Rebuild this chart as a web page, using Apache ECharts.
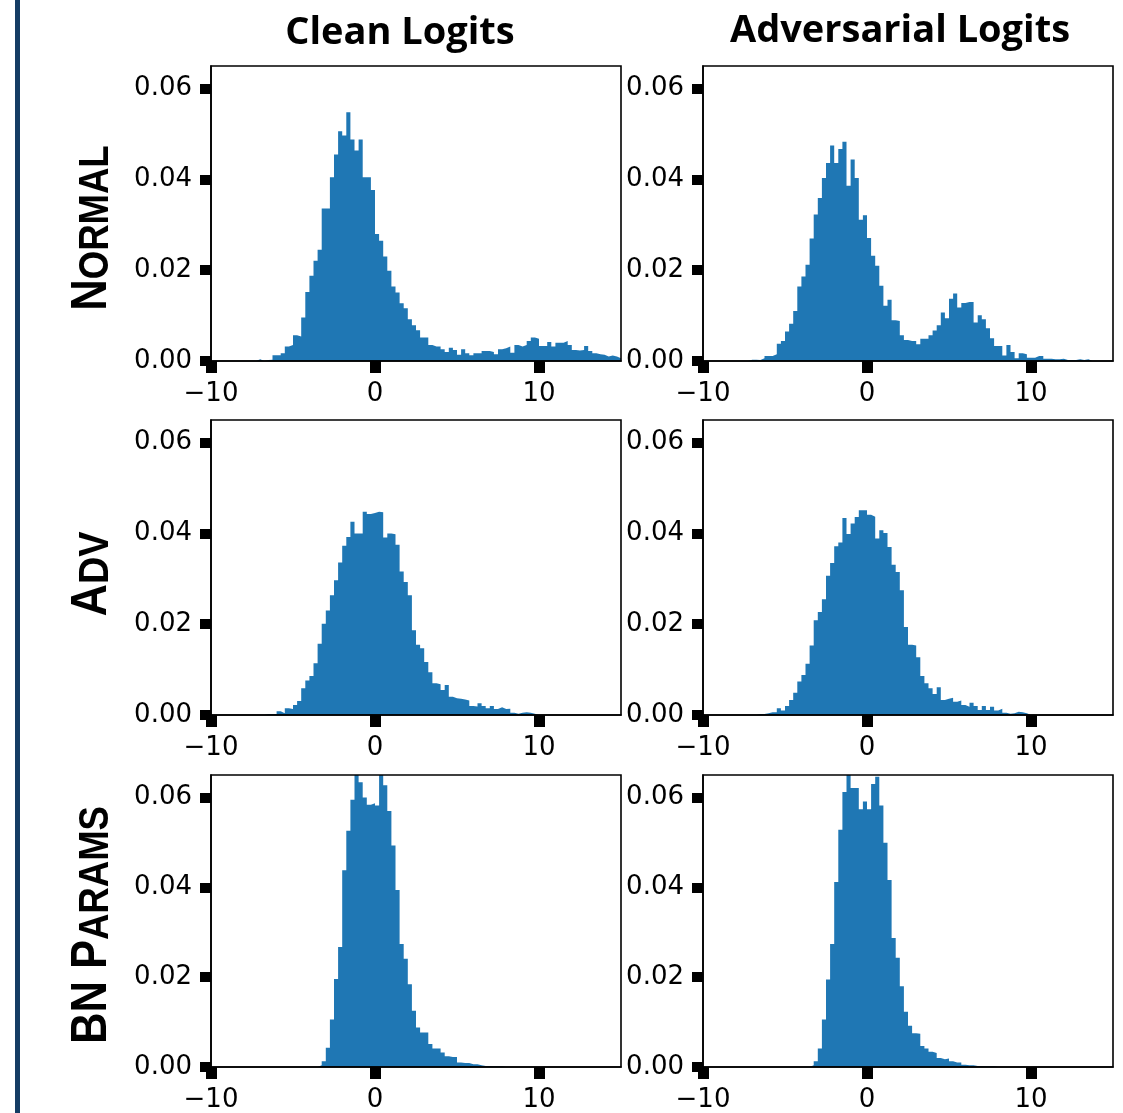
<!DOCTYPE html>
<html>
<head>
<meta charset="utf-8">
<script src="https://cdn.jsdelivr.net/npm/echarts@6/dist/echarts.min.js"></script>
<style>
  html, body { margin: 0; padding: 0; background: #fff; }
  #chart { width: 1123px; height: 1113px; }
</style>
</head>
<body>
<div id="chart"></div>
<script>
  // histogram bins: 100 bins of width 0.25 starting at -10
  const binStart = -10;
  const binWidth = 0.25;
  const xTicks = [-10, 0, 10];
  const yTicks = [0, 0.02, 0.04, 0.06];
  const colTitles = ["Clean Logits", "Adversarial Logits"];

  // density per bin
  const cleanNormal = [
    0, 0, 0, 0, 0, 0, 0, 0, 0, 0,
    0, 0.0004, 0, 0.0002, 0.0003, 0.00125, 0.00125, 0.0017, 0.0032, 0.0035,
    0.0057, 0.0054, 0.0096, 0.0152, 0.0188, 0.0221, 0.0245, 0.0336, 0.0336, 0.0405,
    0.0455, 0.0506, 0.0497, 0.0548, 0.0488, 0.0464, 0.0488, 0.0405, 0.0405, 0.0377,
    0.028, 0.0265, 0.023, 0.0199, 0.0164, 0.0151, 0.0127, 0.0116, 0.0092, 0.0079,
    0.0068, 0.0052, 0.0052, 0.0035, 0.0032, 0.0032, 0.0026, 0.002, 0.0029, 0.0024,
    0.0014, 0.0026, 0.0017, 0.00125, 0.0017, 0.0017, 0.0022, 0.0022, 0.002, 0.0015,
    0.0026, 0.0028, 0.0032, 0.0018, 0.0035, 0.0032, 0.0035, 0.0044, 0.0052, 0.0049,
    0.0033, 0.0033, 0.0042, 0.0032, 0.004, 0.004, 0.0044, 0.0035, 0.0024, 0.0023,
    0.0024, 0.0033, 0.0022, 0.0017, 0.0015, 0.0014, 0.001, 0.0012, 0.001, 0.0006
  ];
  const advNormal = [
    0, 0, 0, 0, 0, 0, 0, 0, 0, 0,
    0, 0.0003, 0.0003, 0.0002, 0.0006, 0.0011, 0.0011, 0.0015, 0.0038, 0.0044,
    0.0065, 0.0082, 0.011, 0.0164, 0.0186, 0.0212, 0.027, 0.0323, 0.0359, 0.0403,
    0.0436, 0.0475, 0.0436, 0.0467, 0.0483, 0.0386, 0.0444, 0.0403, 0.0311, 0.0321,
    0.0271, 0.0232, 0.021, 0.0166, 0.0122, 0.0135, 0.009, 0.0088, 0.0057, 0.0046,
    0.0044, 0.0044, 0.0037, 0.0049, 0.0049, 0.0057, 0.0067, 0.0079, 0.0107, 0.0094,
    0.0137, 0.0149, 0.0118, 0.0128, 0.013, 0.013, 0.0085, 0.0101, 0.0092, 0.0072,
    0.005, 0.0033, 0.0033, 0.0012, 0.0035, 0.002, 0.0006, 0.0017, 0.0015, 0.0007,
    0.0007, 0.0011, 0.0011, 0.0005, 0.0005, 0.0004, 0.0004, 0.0005, 0.0002, 0.0002,
    0.0002, 0.0004, 0.0002, 0.0004, 0, 0, 0, 0, 0, 0
  ];
  const cleanAdv = [
    0, 0, 0, 0, 0, 0, 0, 0, 0, 0,
    0, 0, 0, 0.0002, 0.0002, 0.0002, 0.0008, 0.0004, 0.0015, 0.0013,
    0.0022, 0.0031, 0.0059, 0.0076, 0.0086, 0.0114, 0.0157, 0.0201, 0.023, 0.0264,
    0.0297, 0.0336, 0.0373, 0.0392, 0.0426, 0.04, 0.04, 0.0448, 0.0443, 0.0445,
    0.0448, 0.0447, 0.0391, 0.04, 0.0398, 0.0375, 0.0316, 0.0293, 0.0264, 0.0187,
    0.0155, 0.0147, 0.0117, 0.0094, 0.007, 0.0068, 0.0055, 0.0066, 0.004, 0.0037,
    0.0036, 0.0034, 0.0032, 0.002, 0.0019, 0.0026, 0.002, 0.0015, 0.002, 0.0013,
    0.0017, 0.0013, 0.0014, 0.0005, 0.0003, 0.0005, 0.0006, 0.0005, 0.0003, 0,
    0, 0, 0, 0, 0, 0, 0, 0, 0, 0,
    0, 0, 0, 0, 0, 0, 0, 0, 0, 0
  ];
  const advAdv = [
    0, 0, 0, 0, 0, 0, 0, 0, 0, 0,
    0, 0, 0, 0.0002, 0.0002, 0.0004, 0.0006, 0.0006, 0.0015, 0.001,
    0.002, 0.0033, 0.0049, 0.0074, 0.0088, 0.0113, 0.0153, 0.0209, 0.0227, 0.0255,
    0.0307, 0.0335, 0.0372, 0.038, 0.0434, 0.0399, 0.0422, 0.0436, 0.0451, 0.0451,
    0.0441, 0.0437, 0.0389, 0.0407, 0.0401, 0.037, 0.0331, 0.0315, 0.0275, 0.0194,
    0.0155, 0.0153, 0.0127, 0.0086, 0.007, 0.0059, 0.0046, 0.0061, 0.0033, 0.0036,
    0.0038, 0.0029, 0.0032, 0.0022, 0.0018, 0.0027, 0.002, 0.0011, 0.002, 0.0011,
    0.0018, 0.001, 0.0014, 0.0005, 0.0003, 0.0004, 0.0007, 0.0006, 0.0004, 0,
    0, 0, 0, 0, 0, 0, 0, 0, 0, 0,
    0, 0, 0, 0, 0, 0, 0, 0, 0, 0
  ];
  const cleanBn = [
    0, 0, 0, 0, 0, 0, 0, 0, 0, 0,
    0, 0, 0, 0, 0, 0, 0, 0, 0, 0,
    0, 0, 0, 0, 0, 0, 0.0004, 0.0013, 0.0043, 0.0106,
    0.0196, 0.0267, 0.0438, 0.0526, 0.0595, 0.068, 0.0634, 0.06, 0.0584, 0.0587,
    0.0582, 0.067, 0.0627, 0.057, 0.0493, 0.0394, 0.0274, 0.0241, 0.0184, 0.0125,
    0.0088, 0.0077, 0.0077, 0.0051, 0.0041, 0.0041, 0.0032, 0.0024, 0.0022, 0.0022,
    0.001, 0.0009, 0.0009, 0.0006, 0.0006, 0.0004, 0.0002, 0.0002, 0.00015, 0.00015,
    0.00015, 0, 0, 0, 0, 0, 0, 0, 0, 0,
    0, 0, 0, 0, 0, 0, 0, 0, 0, 0,
    0, 0, 0, 0, 0, 0, 0, 0, 0, 0
  ];
  const advBn = [
    0, 0, 0, 0, 0, 0, 0, 0, 0, 0,
    0, 0, 0, 0, 0, 0, 0, 0, 0, 0,
    0, 0, 0, 0, 0, 0, 0.0004, 0.0013, 0.0041, 0.0106,
    0.0195, 0.0274, 0.0412, 0.0528, 0.0612, 0.068, 0.0621, 0.0621, 0.0574, 0.0591,
    0.0574, 0.063, 0.0646, 0.0582, 0.0499, 0.0416, 0.0287, 0.0243, 0.018, 0.0123,
    0.0092, 0.0075, 0.0074, 0.0047, 0.0041, 0.0034, 0.0031, 0.002, 0.0017, 0.0019,
    0.0013, 0.001, 0.001, 0.0005, 0.0004, 0.0004, 0.0002, 0.0002, 0.00015, 0.00015,
    0.00015, 0, 0, 0, 0, 0, 0, 0, 0, 0,
    0, 0, 0, 0, 0, 0, 0, 0, 0, 0,
    0, 0, 0, 0, 0, 0, 0, 0, 0, 0
  ];

  const panels = [cleanNormal, advNormal, cleanAdv, advAdv, cleanBn, advBn];

  // layout in px
  const colLeft = [211, 703];
  const rowTop = [66, 420, 775];
  const panelW = 410;
  const panelH = 295;
  const barColor = "#1f77b4";
  const tickFont = "DejaVu Sans";

  // left edges of bins + closing edge, for a filled step line
  function histPoints(dens) {
    const pts = dens.map((d, i) => [binStart + i * binWidth, d]);
    pts.push([binStart + dens.length * binWidth, dens[dens.length - 1]]);
    return pts;
  }

  const grid = [], xAxis = [], yAxis = [], series = [];
  panels.forEach((dens, k) => {
    const r = Math.floor(k / 2), c = k % 2;
    grid.push({
      left: colLeft[c], top: rowTop[r], width: panelW, height: panelH,
      show: true, borderColor: "#000", borderWidth: 1.6, z: 5,
      backgroundColor: "transparent",
    });
    xAxis.push({
      type: "value", gridIndex: k, min: -10, max: 15, z: 6,
      splitLine: { show: false },
      axisLine: { show: true, onZero: false, lineStyle: { color: "#000", width: 1.6 } },
      axisTick: { show: true, length: 12, customValues: xTicks, lineStyle: { color: "#000", width: 11 } },
      axisLabel: {
        customValues: xTicks, margin: 20, color: "#000", fontSize: 26, fontFamily: tickFont,
        formatter: (v) => (v < 0 ? "\u2212" + Math.abs(v) : String(v)),
      },
    });
    yAxis.push({
      type: "value", gridIndex: k, min: 0, max: 0.065, z: 6,
      splitLine: { show: false },
      axisLine: { show: true, onZero: false, lineStyle: { color: "#000", width: 1.6 } },
      axisTick: { show: true, length: 11, customValues: yTicks, lineStyle: { color: "#000", width: 10 } },
      axisLabel: {
        customValues: yTicks, margin: 19, color: "#000", fontSize: 26, fontFamily: tickFont,
        padding: [4, 0, 0, 0],
        formatter: (v) => v.toFixed(2),
      },
    });
    series.push({
      type: "line", xAxisIndex: k, yAxisIndex: k,
      step: "end", symbol: "none", clip: true, z: 2,
      lineStyle: { width: 0, opacity: 0 },
      areaStyle: { color: barColor, opacity: 1 },
      data: histPoints(dens),
    });
  });

  const rowLabel = (text, y, sx) => ({
    type: "text", x: 92, y: y, rotation: Math.PI / 2, scaleX: sx,
    style: {
      text: text, align: "center", verticalAlign: "middle",
      rich: {
        b: { fontSize: 50, fontWeight: "bold", fontFamily: "Liberation Sans", fill: "#000", verticalAlign: "bottom" },
        s: { fontSize: 42, fontWeight: "bold", fontFamily: "Liberation Sans", fill: "#000", verticalAlign: "bottom" },
      },
    },
  });

  const chart = echarts.init(document.getElementById("chart"), null, { renderer: "canvas" });
  chart.setOption({
    animation: false,
    backgroundColor: "#fff",
    grid, xAxis, yAxis, series,
    graphic: [
      { type: "rect", shape: { x: 15, y: 0, width: 5, height: 1113 }, style: { fill: "#143c64" } },
      {
        type: "text", x: 400, y: 33,
        style: { text: colTitles[0], font: "bold 38px 'Open Sans'", fill: "#000", align: "center", verticalAlign: "middle" },
      },
      {
        type: "text", x: 900, y: 31,
        style: { text: colTitles[1], font: "bold 38px 'Open Sans'", fill: "#000", align: "center", verticalAlign: "middle" },
      },
      rowLabel("{b|N}{s|ORMAL}", 228, 0.87),
      rowLabel("{b|A}{s|DV}", 574, 0.9),
      rowLabel("{b|BN P}{s|ARAMS}", 925, 0.87),
    ],
  });
</script>
</body>
</html>
